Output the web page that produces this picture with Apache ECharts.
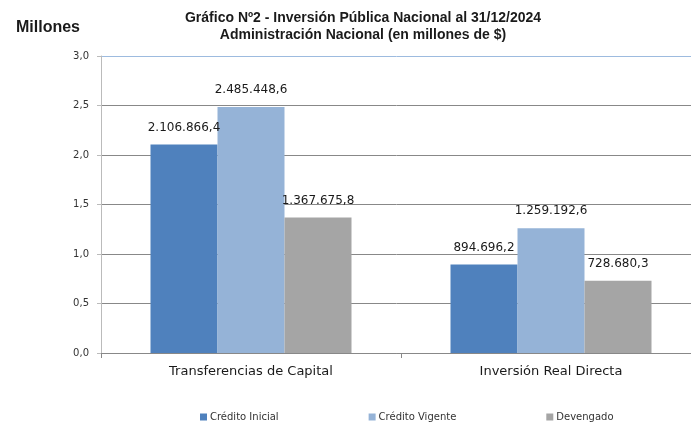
<!DOCTYPE html>
<html>
<head>
<meta charset="utf-8">
<script src="https://cdn.jsdelivr.net/npm/echarts@6/dist/echarts.min.js"></script>
<style>
  html, body { margin: 0; padding: 0; background: #fff; }
  #chart { width: 691px; height: 425px; }
</style>
</head>
<body>
<div id="chart"></div>
<script>
// datos en millones de $
const categorias = ['Transferencias de Capital', 'Inversión Real Directa'];
const creditoInicial = [2106866.4, 894696.2];
const creditoVigente = [2485448.6, 1259192.6];
const devengado = [1367675.8, 728680.3];
const nombresSeries = ['Crédito Inicial', 'Crédito Vigente', 'Devengado'];
const colores = ['#4f81bd', '#95b3d7', '#a5a5a5'];

// formato argentino: 2.106.866,4
function fmtValor(v) {
    const partes = v.toFixed(1).split('.');
    partes[0] = partes[0].replace(/\B(?=(\d{3})+(?!\d))/g, '.');
    return partes[0] + ',' + partes[1];
}

const fuente = 'DejaVu Sans';
const chart = echarts.init(document.getElementById('chart'));

function serie(nombre, datos) {
    return {
        name: nombre,
        type: 'bar',
        data: datos,
        barGap: '0%',
        barCategoryGap: '33%',
        label: {
            show: true,
            position: 'top',
            distance: 11,
            fontFamily: fuente,
            fontSize: 12,
            color: '#1a1a1a',
            formatter: p => fmtValor(p.value)
        }
    };
}

chart.setOption({
    animation: false,
    color: colores,
    title: [{
        text: 'Gráfico Nº2 - Inversión Pública Nacional al 31/12/2024\nAdministración Nacional (en millones de $)',
        left: 358,
        top: 5,
        textAlign: 'center',
        textStyle: {
            fontFamily: 'Liberation Sans',
            fontWeight: 'bold',
            fontSize: 14,
            lineHeight: 17,
            color: '#1a1a1a'
        }
    }, {
        text: 'Millones',
        left: 11,
        top: 15,
        textStyle: {
            fontFamily: 'Liberation Sans',
            fontWeight: 'bold',
            fontSize: 16,
            color: '#1a1a1a'
        }
    }],
    legend: {
        data: nombresSeries,
        left: 195,
        top: 407,
        itemWidth: 7,
        itemHeight: 7,
        itemGap: 90,
        icon: 'rect',
        textStyle: { fontFamily: fuente, fontSize: 10, color: '#333', padding: [0, 0, 0, -2] }
    },
    grid: { left: 101, top: 56, width: 600, height: 297, containLabel: false, outerBoundsMode: 'none' },
    xAxis: {
        type: 'category',
        data: categorias,
        axisLine: { lineStyle: { color: '#888', width: 1 } },
        axisTick: { show: true, alignWithLabel: false, length: 5, lineStyle: { color: '#888' } },
        axisLabel: { fontFamily: fuente, fontSize: 13, color: '#1a1a1a', margin: 12 }
    },
    yAxis: {
        type: 'value',
        min: 0,
        max: 3000000,
        interval: 500000,
        axisLine: { show: true, lineStyle: { color: '#bbb', width: 1 } },
        axisTick: { show: true, length: 4, lineStyle: { color: '#bbb' } },
        axisLabel: {
            fontFamily: fuente,
            fontSize: 10,
            color: '#333',
            margin: 12,
            formatter: v => (v / 1000000).toFixed(1).replace('.', ',')
        },
        splitLine: {
            lineStyle: {
                color: ['#888', '#888', '#888', '#888', '#888', '#888', '#9dbbdf'],
                width: 1
            }
        }
    },
    series: [
        serie(nombresSeries[0], creditoInicial),
        serie(nombresSeries[1], creditoVigente),
        serie(nombresSeries[2], devengado)
    ]
});
</script>
</body>
</html>
